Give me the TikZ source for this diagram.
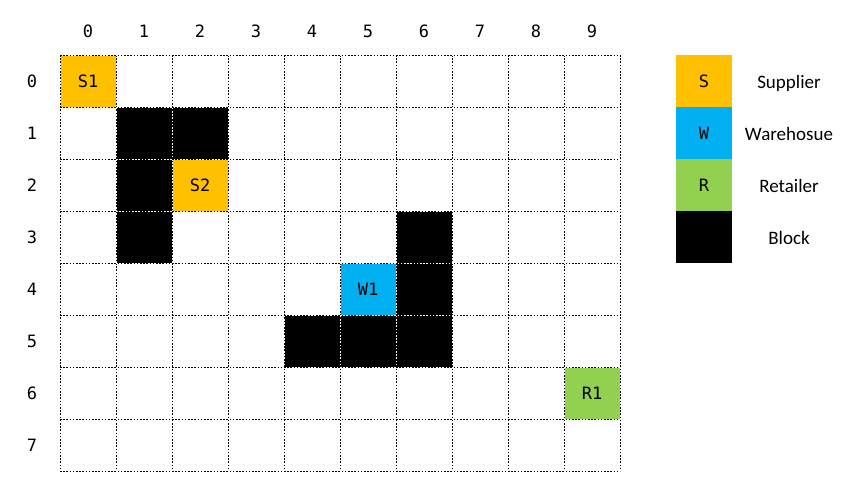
\documentclass[tikz,border=0pt]{standalone}
\usepackage{fontspec}
\setmainfont{Carlito}
\newfontfamily\gridfont{DejaVu Sans Mono}
\definecolor{supc}{HTML}{FFC000}
\definecolor{whc}{HTML}{00B0F0}
\definecolor{retc}{HTML}{92D050}
\begin{document}
\begin{tikzpicture}[x=1pt,y=-1pt,
  cell/.style={minimum width=56pt,minimum height=52pt,inner sep=0pt,outer sep=0pt,font=\gridfont\fontsize{17}{19}\selectfont},
  blockcell/.style={cell,fill=black},
  supcell/.style={cell,fill=supc},
  whcell/.style={cell,fill=whc},
  retcell/.style={cell,fill=retc},
  axislabel/.style={font=\gridfont\fontsize{17}{19}\selectfont,inner sep=0pt},
  legendtext/.style={font=\fontsize{19}{21}\selectfont,inner sep=0pt,anchor=base},
  gridwhite/.style={white,line width=0.9pt},
  griddash/.style={black,line width=0.9pt,dash pattern=on 1.6pt off 1.6pt}]
\useasboundingbox[fill=white] (0,0) rectangle (853,498);
% cells
\foreach \r/\c [count=\i] in {1/1,1/2,2/1,3/1,3/6,4/6,5/4,5/5,5/6}
  \node[blockcell] (b\i) at (88+56*\c,81+52*\r) {};
\node[supcell] (s1) at (88,81) {S1};
\node[supcell] (s2) at (88+56*2,81+52*2) {S2};
\node[whcell] (w1) at (88+56*5,81+52*4) {W1};
\node[retcell] (r1) at (88+56*9,81+52*6) {R1};
% grid
\foreach \k in {0,...,10}{
  \draw[gridwhite] (60+56*\k,55) -- (60+56*\k,471);
  \draw[griddash] (60+56*\k,55) -- (60+56*\k,471);
}
\foreach \k in {0,...,8}{
  \draw[gridwhite] (60,55+52*\k) -- (620,55+52*\k);
  \draw[griddash] (60,55+52*\k) -- (620,55+52*\k);
}
% axis labels
\foreach \c in {0,...,9}
  \node[axislabel] (col\c) at (88+56*\c,31) {\c};
\foreach \r in {0,...,7}
  \node[axislabel] (row\r) at (32,81+52*\r) {\r};
% legend
\node[supcell] (ls) at (704,81) {S};
\node[whcell] (lw) at (704,133) {W};
\node[retcell] (lr) at (704,185) {R};
\node[blockcell] (lb) at (704,237) {};
\node[legendtext] (lst) at (789,88) {Supplier};
\node[legendtext] (lwt) at (789,140) {Warehosue};
\node[legendtext] (lrt) at (789,192) {Retailer};
\node[legendtext] (lbt) at (789,244) {Block};
\end{tikzpicture}
\end{document}
